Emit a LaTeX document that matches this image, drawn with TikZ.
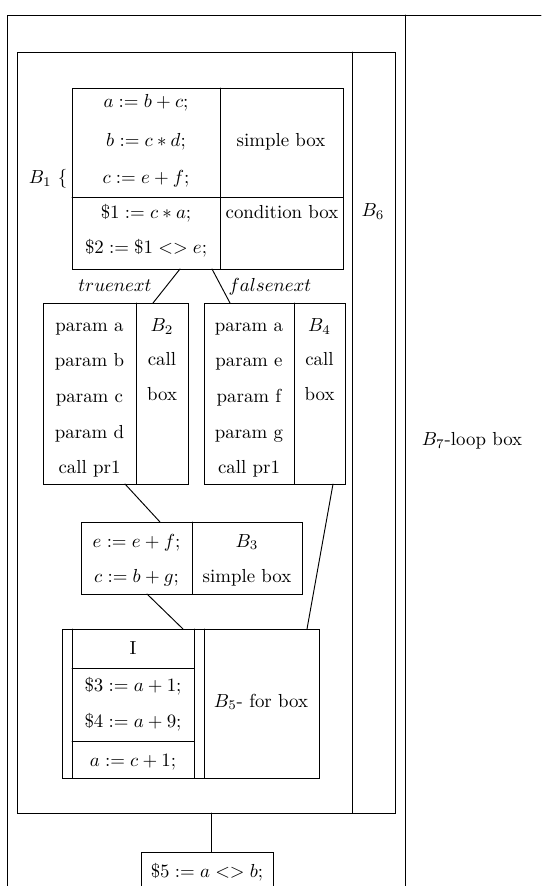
\documentclass[tikz,border=0pt]{standalone}
\begin{document}
\begin{tikzpicture}[x=0.53pt, y=-0.53pt, line width=0.5pt, line cap=round,
  txt/.style={inner sep=0pt, anchor=base}]
  \useasboundingbox (0,0) rectangle (541,886);
  % ── B7: caja de bucle (exterior, abierta por abajo) ──
  \draw (7,886) -- (7,15) -- (541,15);
  \draw (405,15) -- (405,886);
  \node[txt] (b7) at (472,446) {$B_7$-loop box};
  % ── B6 ──
  \draw (17,52) rectangle (395,813);
  \draw (352,52) -- (352,813);
  \node[txt] (b6) at (373,217) {$B_6$};
  % ── B1: simple box + condition box ──
  \draw (72,88) rectangle (343,269);
  \draw (220,88) -- (220,269);
  \draw (72,197) -- (343,197);
  \node[txt] (b1a) at (146,108) {$a := b + c;$};
  \node[txt] (b1b) at (146,147) {$b := c * d;$};
  \node[txt] (b1c) at (146,184) {$c := e + f;$};
  \node[txt] (b1d) at (146,219) {$\$1 := c * a;$};
  \node[txt] (b1e) at (146,254) {$\$2 := \$1 <> e;$};
  \node[txt] (b1s) at (281,147) {simple box};
  \node[txt] (b1k) at (282,219) {condition box};
  \node[txt] (b1) at (48,184) {$B_1$ \{};
  % ── ramas ──
  \coordinate (t1) at (180,269); \coordinate (t2) at (153,303);
  \coordinate (f1) at (212,269); \coordinate (f2) at (230,303);
  \draw (t1) -- (t2);
  \draw (f1) -- (f2);
  \node[txt] (tn) at (115,292) {$truenext$};
  \node[txt] (fn) at (270,292) {$falsenext$};
  % ── B2: call box ──
  \draw (43,303) rectangle (188,484);
  \draw (136,303) -- (136,484);
  \foreach \t [count=\i] in {param a, param b, param c, param d, call pr1}
    \node[txt] (b2p\i) at (89.5,296+35.5*\i) {\t};
  \node[txt] (b2) at (162,332) {$B_2$};
  \node[txt] (b2c) at (162,366) {call};
  \node[txt] (b2x) at (162,401) {box};
  % ── B4: call box ──
  \draw (204,303) rectangle (345,484);
  \draw (294,303) -- (294,484);
  \foreach \t [count=\i] in {param a, param e, param f, param g, call pr1}
    \node[txt] (b4p\i) at (249,296+35.5*\i) {\t};
  \node[txt] (b4) at (319.5,332) {$B_4$};
  \node[txt] (b4c) at (319.5,366) {call};
  \node[txt] (b4x) at (319.5,401) {box};
  % ── B3: simple box ──
  \coordinate (b2o) at (125,484); \coordinate (b3i) at (160,522);
  \draw (b2o) -- (b3i);
  \draw (81,522) rectangle (302,594);
  \draw (192,522) -- (192,594);
  \node[txt] (b3a) at (136.5,547) {$e := e + f;$};
  \node[txt] (b3b) at (136.5,582) {$c := b + g;$};
  \node[txt] (b3) at (247,547) {$B_3$};
  \node[txt] (b3s) at (247,582) {simple box};
  % ── B5: for box ──
  \coordinate (b3o) at (147,594); \coordinate (b5i) at (183,629);
  \coordinate (b4o) at (333,484); \coordinate (b5j) at (307,629);
  \draw (b3o) -- (b5i);
  \draw (b4o) -- (b5j);
  \draw (62,629) rectangle (319,778);
  \foreach \x in {72,194,204} { \draw (\x,629) -- (\x,778); }
  \draw (72,668) -- (194,668);
  \draw (72,741) -- (194,741);
  \node[txt] (b5i0) at (133,654) {I};
  \node[txt] (b5a) at (133,691) {$\$3 := a + 1;$};
  \node[txt] (b5b) at (133,727) {$\$4 := a + 9;$};
  \node[txt] (b5c) at (133,766) {$a := c + 1;$};
  \node[txt] (b5) at (261,707) {$B_5$- for box};
  % ── caja final (abierta por abajo) ──
  \coordinate (b6o) at (211,813); \coordinate (c5i) at (211,852);
  \draw (b6o) -- (c5i);
  \draw (141,886) -- (141,852) -- (273,852) -- (273,886);
  \node[txt] (c5) at (207,877) {$\$5 := a <> b;$};
\end{tikzpicture}
\end{document}
